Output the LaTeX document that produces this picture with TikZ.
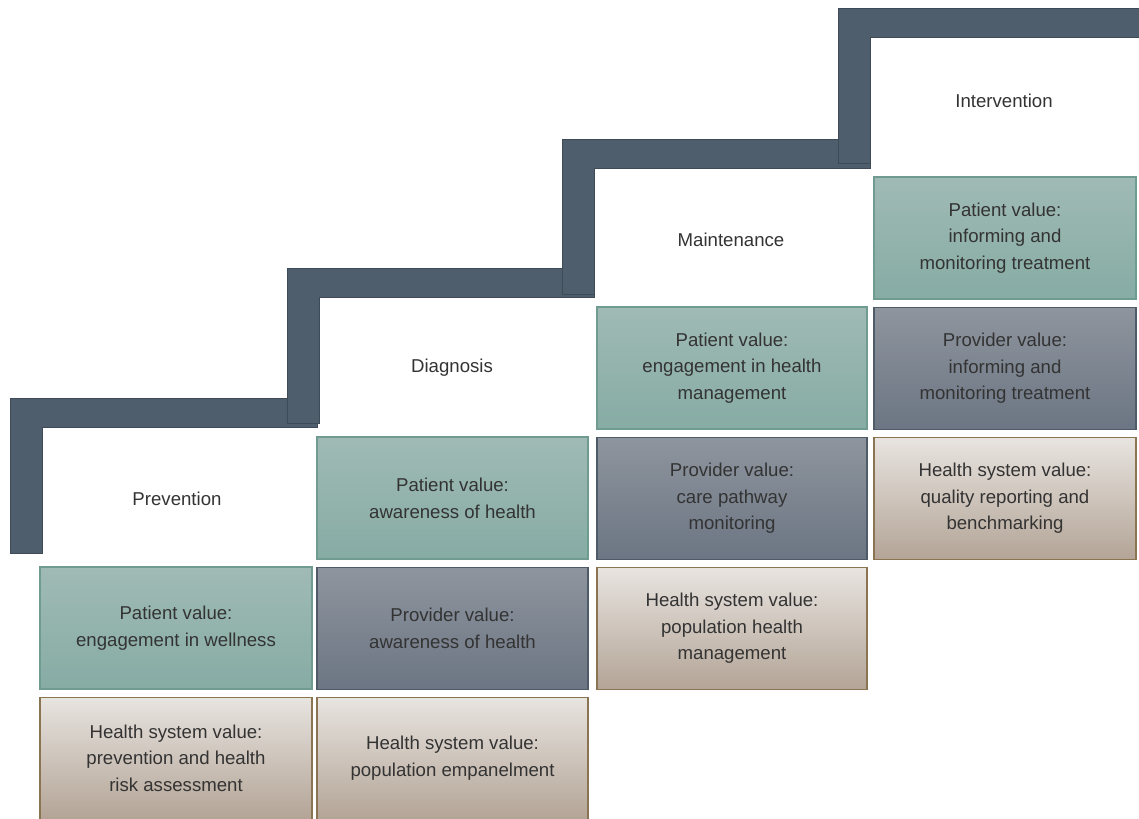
\documentclass[tikz,border=0pt]{standalone}
\usepackage{fontspec}
\setmainfont{Liberation Sans}
\usetikzlibrary{positioning}
\definecolor{stairfill}{HTML}{4F5E6C}
\definecolor{stairedge}{HTML}{3E4A56}
\definecolor{textgray}{HTML}{333333}
\definecolor{patienttop}{HTML}{A0BAB5}
\definecolor{patientbot}{HTML}{86ACA4}
\definecolor{patientedge}{HTML}{6F9B91}
\definecolor{providertop}{HTML}{8E959E}
\definecolor{providerbot}{HTML}{6C7583}
\definecolor{provideredge}{HTML}{4F5B69}
\definecolor{healthtop}{HTML}{E8E4E0}
\definecolor{healthbot}{HTML}{B3A496}
\definecolor{healthedge}{HTML}{8A7452}
\begin{document}
\begin{tikzpicture}[x=0.02cm, y=-0.02cm, node distance=0.14cm,
    valbox/.style = {draw, line width=0.7pt, minimum height=2.44cm, inner sep=2pt,
                     align=center, text=textgray, font=\fontsize{10.6}{15.2}\selectfont},
    patient/.style = {valbox, draw=patientedge, top color=patienttop, bottom color=patientbot},
    provider/.style = {valbox, draw=provideredge, top color=providertop, bottom color=providerbot},
    healthsys/.style = {valbox, draw=healthedge, top color=healthtop, bottom color=healthbot},
    stage/.style = {text=textgray, font=\fontsize{10.6}{15.2}\selectfont},
    stair/.style = {fill=stairfill, draw=stairedge, line width=0.4pt}]
  \useasboundingbox (0,0) rectangle (1139,818);
  % the steps
  \foreach \sx/\sy/\ex in {10/398/317, 287/268/594, 562/139/870, 838/8/1139} {
    \filldraw[stair] (\sx,\sy) -- (\ex,\sy) -- (\ex,\sy+29) -- (\sx+32,\sy+29)
      -- (\sx+32,\sy+155) -- (\sx,\sy+155) -- cycle;
  }
  % stage names
  \node[stage] (prevention) at (177,499) {Prevention};
  \node[stage] (diagnosis) at (452,368) {Diagnosis};
  \node[stage] (maintenance) at (731,240) {Maintenance};
  \node[stage] (intervention) at (1004,101) {Intervention};
  %
  \node[patient, minimum width=5.44cm] (pat1) at (176,628) {Patient value:\\engagement in wellness};
  \node[healthsys, minimum width=5.44cm] (hs1) [below=of pat1] {Health system value:\\prevention and health\\risk assessment};
  %
  \node[patient, minimum width=5.42cm] (pat2) at (452.5,498) {Patient value:\\awareness of health};
  \node[provider, minimum width=5.42cm] (prov2) [below=of pat2] {Provider value:\\awareness of health};
  \node[healthsys, minimum width=5.42cm] (hs2) [below=of prov2] {Health system value:\\population empanelment};
  %
  \node[patient, minimum width=5.4cm] (pat3) at (732,368) {Patient value:\\engagement in health\\management};
  \node[provider, minimum width=5.4cm] (prov3) [below=of pat3] {Provider value:\\care pathway\\monitoring};
  \node[healthsys, minimum width=5.4cm] (hs3) [below=of prov3] {Health system value:\\population health\\management};
  %
  \node[patient, minimum width=5.24cm] (pat4) at (1005,238) {Patient value:\\informing and\\monitoring treatment};
  \node[provider, minimum width=5.24cm] (prov4) [below=of pat4] {Provider value:\\informing and\\monitoring treatment};
  \node[healthsys, minimum width=5.24cm] (hs4) [below=of prov4] {Health system value:\\quality reporting and\\benchmarking};
\end{tikzpicture}
\end{document}
